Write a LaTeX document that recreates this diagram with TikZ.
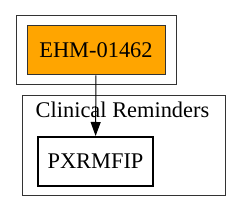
\documentclass[tikz,border=0pt]{standalone}
\usepackage{fontspec}
\setmainfont{Liberation Serif}
\usetikzlibrary{arrows.meta,positioning}
\definecolor{nodeorange}{HTML}{FFA500}

\begin{document}
\begin{tikzpicture}[
  x=0.5pt, y=-0.5pt,
  font=\fontsize{11.2}{13}\selectfont,
  clusterbox/.style={draw=black!80, line width=0.5pt},
  pkgbox/.style={rectangle, draw=black!80, line width=0.5pt, fill=nodeorange, minimum width=69pt, minimum height=24.5pt, inner sep=0pt},
  routinebox/.style={rectangle, draw=black, line width=1pt, fill=white, minimum width=57.5pt, minimum height=24.5pt, inner sep=0pt},
  arrow/.style={-{Triangle[length=7pt,width=5pt]}, line width=0.5pt, black}
]
\useasboundingbox (0,0) rectangle (241,212);
% clusters
\draw[clusterbox] (16,16) rectangle (176,85);
\draw[clusterbox] (22,96) rectangle (225,196);
\node (clustertitle) at (122.5,110) {Clinical Reminders};
% nodes
\node[pkgbox] (ehm) at (96,50.5) {EHM-01462};
\node[routinebox] (pxrmfip) at (95.5,161.5) {PXRMFIP};
\draw[arrow] (ehm) -- (pxrmfip);
\end{tikzpicture}
\end{document}
